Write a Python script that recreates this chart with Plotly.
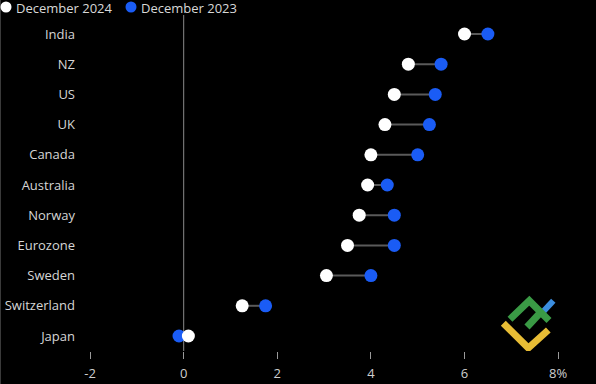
import plotly.graph_objects as go

countries = ["India", "NZ", "US", "UK", "Canada", "Australia", "Norway",
             "Eurozone", "Sweden", "Switzerland", "Japan"]
dec_2024 = [6.0, 4.8, 4.5, 4.3, 4.0, 3.93, 3.75, 3.5, 3.05, 1.25, 0.1]
dec_2023 = [6.5, 5.5, 5.375, 5.25, 5.0, 4.35, 4.5, 4.5, 4.0, 1.75, -0.1]
tick_vals = [-2, 0, 2, 4, 6, 8]
tick_text = ["-2", "0", "2", "4", "6", "8%"]
series_names = ["December 2024", "December 2023"]
series_colors = ["#ffffff", "#1a5cf5"]

W, H = 596, 384
L, R, T, B = 80, 10, 20, 33
PW, PH = W - L - R, H - T - B
X0PX, XPU = 183.7, 46.8
Y0PX, YPU = 34.0, 30.2
xr = [(L - X0PX) / XPU, (W - R - X0PX) / XPU]
yr = [(H - B - Y0PX) / YPU, (T - Y0PX) / YPU]

idx = list(range(len(countries)))

fig = go.Figure()

cx, cy = [], []
for i, a, b in zip(idx, dec_2024, dec_2023):
    cx += [a, b, None]
    cy += [i, i, None]
fig.add_trace(go.Scatter(x=cx, y=cy, mode="lines",
                         line=dict(color="#5a5a5a", width=2),
                         showlegend=False, hoverinfo="skip"))

fig.add_trace(go.Scatter(x=dec_2023, y=idx, mode="markers", name=series_names[1],
                         marker=dict(color=series_colors[1], size=13, line=dict(width=0)),
                         showlegend=False))
fig.add_trace(go.Scatter(x=dec_2024, y=idx, mode="markers", name=series_names[0],
                         marker=dict(color=series_colors[0], size=13, line=dict(width=0)),
                         showlegend=False))

def pxx(x):
    return (x - L) / PW

def pxy(y):
    return (H - B - y) / PH

def dpath(pts):
    s = ""
    for k, (x, y) in enumerate(pts):
        s += ("M" if k == 0 else "L") + f"{(x - X0PX) / XPU:.4f},{(y - Y0PX) / YPU:.4f} "
    return s

shapes = [
    dict(type="line", xref="x", yref="paper", x0=0, x1=0, y0=pxy(351), y1=pxy(15),
         line=dict(color="#8a8a8a", width=1), layer="below"),
    dict(type="line", xref="paper", yref="paper", x0=pxx(0.5), x1=pxx(0.5),
         y0=pxy(384), y1=pxy(0), line=dict(color="#3a3a3a", width=1)),
    dict(type="path", xref="x", yref="y", path=dpath([(541.7, 313.3), (553.3, 300.7)]),
         line=dict(color="#3c8ee0", width=6)),
    dict(type="path", xref="x", yref="y",
         path=dpath([(510, 319.3), (529.3, 300.7), (549, 320.5)]),
         line=dict(color="#3a9a45", width=7)),
    dict(type="path", xref="x", yref="y", path=dpath([(527, 327), (540, 313)]),
         line=dict(color="#3a9a45", width=7)),
    dict(type="path", xref="x", yref="y",
         path=dpath([(503.3, 323.3), (528.3, 348), (548.3, 330)]),
         line=dict(color="#e8bd35", width=7)),
]

annotations = []
leg_marker_x = [6, 131]
leg_text_x = [15, 140]
for name, col, mx, tx in zip(series_names, series_colors, leg_marker_x, leg_text_x):
    shapes.append(dict(type="circle", xref="paper", yref="paper",
                       xsizemode="pixel", ysizemode="pixel",
                       xanchor=pxx(mx), yanchor=pxy(7),
                       x0=-5.5, x1=5.5, y0=-5.5, y1=5.5,
                       fillcolor=col, line=dict(width=0)))
    annotations.append(dict(text=name, xref="paper", yref="paper", x=pxx(tx), y=pxy(0),
                            xanchor="left", yanchor="top", showarrow=False, borderpad=0,
                            yshift=2, font=dict(size=13, color="#d8d8d8")))

fig.update_layout(
    width=W, height=H,
    margin=dict(l=L, r=R, t=T, b=B, autoexpand=False),
    paper_bgcolor="#000000", plot_bgcolor="#000000",
    font=dict(family="Open Sans", color="#d0d0d0", size=13),
    showlegend=False,
    xaxis=dict(range=xr, tickvals=tick_vals, ticktext=tick_text, showgrid=False,
               zeroline=False, showline=False, ticks="outside", ticklen=7,
               tickcolor="#9a9a9a", tickwidth=1, automargin=False,
               ticklabelstandoff=3,
               tickfont=dict(size=13, color="#cfcfcf")),
    yaxis=dict(range=yr, tickvals=idx, ticktext=countries, showgrid=False,
               zeroline=False, showline=False, ticks="", automargin=False,
               ticklabelstandoff=4,
               tickfont=dict(size=13, color="#d6d6d6")),
    shapes=shapes,
    annotations=annotations,
)

fig.write_html("out.html")
